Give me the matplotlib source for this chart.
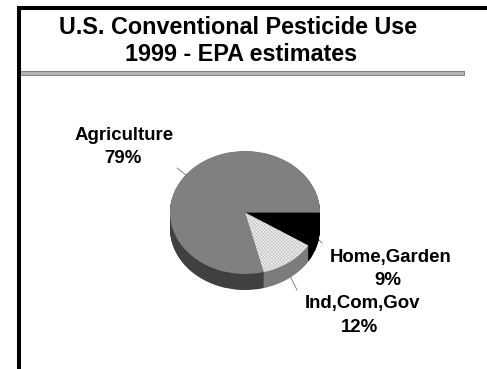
import numpy as np
import matplotlib
matplotlib.use('Agg')
import matplotlib.pyplot as plt

plt.rcParams['font.family'] = ['Liberation Sans', 'DejaVu Sans']
plt.rcParams['hatch.linewidth'] = 0.25
plt.rcParams['hatch.color'] = '#a8a8a8'

W, H = 487, 369

# Pie data, clockwise from 3 o'clock
sectors = ['Home,Garden', 'Ind,Com,Gov', 'Agriculture']
shares = [9, 12, 79]
top_colors = ['#000000', '#f0f0f0', '#808080']
rim_colors = ['#000000', '#7c7c7c', '#404040']

title_lines = ['U.S. Conventional Pesticide Use', '1999 - EPA estimates']

# Ellipse geometry in pixels
cx, cy, rx, ry, depth = 245, 212.5, 75, 61.5, 16

fig = plt.figure(figsize=(W / 100, H / 100), dpi=100, facecolor='white')

# Page layer in pixel coordinates
page = fig.add_axes([0, 0, 1, 1])
page.set_xlim(0, W)
page.set_ylim(H, 0)
page.axis('off')

page.plot([19, 19], [6, H], color='black', lw=2.9, solid_capstyle='butt')
page.plot([17, W], [8, 8], color='black', lw=2.9, solid_capstyle='butt')
page.fill_between([20, 464], 71, 75, facecolor='#b4b4b4', edgecolor='#808080', lw=0.7)

page.text(238.5, 34, title_lines[0], ha='center', va='baseline', fontsize=16.8, fontweight='bold')
page.text(241.5, 61, title_lines[1], ha='center', va='baseline', fontsize=16.8, fontweight='bold')

# Leader lines
page.plot([177, 186], [168, 175], color='#707070', lw=0.6)
page.plot([318, 322], [239, 243], color='#707070', lw=0.6)
page.plot([287, 297], [270, 290], color='#707070', lw=0.6)

# Sector labels, one text per line
label_size = 13.4
for x, y, x2, y2, name, share in [(124.5, 140, 123, 163, sectors[2], shares[2]),
                                  (391, 262, 387.5, 285, sectors[0], shares[0]),
                                  (362.5, 308, 359.5, 332, sectors[1], shares[1])]:
    page.text(x, y, name, ha='center', va='baseline', fontsize=label_size, fontweight='bold')
    page.text(x2, y2, f'{share}%', ha='center', va='baseline', fontsize=label_size, fontweight='bold')

# Pie layer, squashed by giving the axes a different scale on y
pad = 4
left, right = cx - rx - pad, cx + rx + pad
top, bottom = cy - ry - pad, cy + ry + depth + pad
pie_ax = fig.add_axes([left / W, 1 - bottom / H, (right - left) / W, (bottom - top) / H])

# Rim: the same pie stacked downward, then the top face over it
for off in np.arange(depth, 0, -0.5):
    pie_ax.pie(shares, colors=rim_colors, startangle=0, counterclock=False,
               center=(0, -off / ry), radius=1, wedgeprops={'lw': 0})

wedges, _ = pie_ax.pie(shares, colors=top_colors, startangle=0, counterclock=False,
                       center=(0, 0), radius=1, wedgeprops={'lw': 0})
wedges[1].set_hatch('xxxxxxxxxx')

pie_ax.set_aspect('auto')
pie_ax.set_xlim(-(rx + pad) / rx, (rx + pad) / rx)
pie_ax.set_ylim(-(ry + depth + pad) / ry, (ry + pad) / ry)
pie_ax.axis('off')

fig.savefig('out.png', dpi=100)
